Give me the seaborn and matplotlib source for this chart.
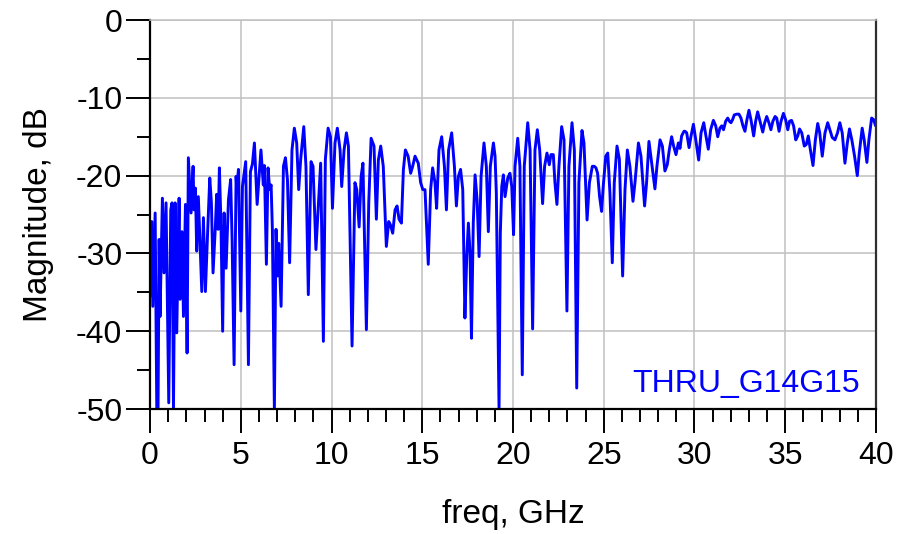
import numpy as np
import pandas as pd
import matplotlib
matplotlib.use("Agg")
import matplotlib.pyplot as plt
from matplotlib.ticker import MultipleLocator
import seaborn as sns

# trace, GHz / dB
freq_ghz = [
    0.0, 0.09, 0.15, 0.28, 0.37, 0.44, 0.5, 0.55, 0.68, 0.77, 0.88, 1.03, 1.14, 1.21, 1.29, 1.38,
    1.47, 1.6, 1.65, 1.76, 1.84, 1.95, 2.04, 2.11, 2.26, 2.37, 2.42, 2.5, 2.57, 2.66, 2.85, 2.94,
    3.05, 3.16, 3.29, 3.38, 3.47, 3.6, 3.67, 3.75, 3.82, 3.91, 4.0, 4.08, 4.19, 4.32, 4.44, 4.52,
    4.63, 4.74, 4.78, 4.87, 5.0, 5.09, 5.27, 5.42, 5.53, 5.64, 5.75, 5.9, 6.11, 6.24, 6.3, 6.41,
    6.5, 6.59, 6.67, 6.74, 6.85, 6.94, 7.02, 7.09, 7.22, 7.35, 7.46, 7.57, 7.69, 7.82, 7.95, 8.08,
    8.19, 8.3, 8.47, 8.59, 8.72, 8.87, 8.98, 9.14, 9.4, 9.55, 9.66, 9.81, 9.94, 10.05, 10.19, 10.32,
    10.47, 10.56, 10.69, 10.82, 10.93, 11.13, 11.29, 11.39, 11.52, 11.63, 11.73, 11.92, 12.05, 12.18,
    12.34, 12.47, 12.58, 12.71, 12.85, 13.02, 13.15, 13.24, 13.37, 13.5, 13.61, 13.72, 13.85, 13.96,
    14.07, 14.22, 14.36, 14.47, 14.6, 14.78, 14.91, 15.03, 15.15, 15.33, 15.46, 15.57, 15.7, 15.79,
    15.92, 16.07, 16.22, 16.33, 16.45, 16.62, 16.77, 16.88, 16.99, 17.11, 17.23, 17.35, 17.45, 17.54,
    17.63, 17.71, 17.81, 17.91, 18.02, 18.13, 18.24, 18.4, 18.53, 18.64, 18.75, 18.92, 19.01, 19.08,
    19.23, 19.3, 19.38, 19.47, 19.56, 19.71, 19.83, 19.93, 20.03, 20.11, 20.26, 20.38, 20.51, 20.62,
    20.81, 20.94, 21.08, 21.21, 21.34, 21.47, 21.63, 21.74, 21.87, 22.0, 22.09, 22.22, 22.31, 22.42,
    22.53, 22.68, 22.81, 22.97, 23.08, 23.25, 23.38, 23.51, 23.63, 23.8, 23.91, 24.08, 24.21, 24.37,
    24.48, 24.57, 24.66, 24.77, 24.88, 24.97, 25.11, 25.22, 25.34, 25.47, 25.58, 25.73, 25.86, 26.04,
    26.17, 26.3, 26.44, 26.61, 26.72, 26.91, 27.05, 27.25, 27.36, 27.49, 27.64, 27.82, 27.93, 28.1,
    28.23, 28.37, 28.5, 28.61, 28.74, 28.85, 28.98, 29.11, 29.2, 29.29, 29.42, 29.48, 29.57, 29.7,
    29.81, 29.94, 30.07, 30.23, 30.36, 30.51, 30.63, 30.76, 30.89, 31.04, 31.17, 31.28, 31.4, 31.5,
    31.6, 31.72, 31.83, 31.92, 32.01, 32.1, 32.19, 32.32, 32.45, 32.56, 32.67, 32.78, 32.89, 33.0,
    33.11, 33.26, 33.37, 33.48, 33.59, 33.76, 33.87, 33.98, 34.1, 34.21, 34.32, 34.44, 34.53, 34.66,
    34.77, 34.9, 35.02, 35.14, 35.24, 35.35, 35.46, 35.58, 35.69, 35.79, 35.91, 36.05, 36.16, 36.27,
    36.38, 36.53, 36.66, 36.79, 36.9, 37.04, 37.19, 37.34, 37.46, 37.59, 37.74, 37.88, 38.01, 38.14,
    38.29, 38.42, 38.54, 38.67, 38.82, 38.97, 39.08, 39.24, 39.35, 39.5, 39.61, 39.76, 39.87, 39.98,
]
mag_db = [
    -35.5, -25.9, -36.8, -24.8, -50.0, -50.0, -28.2, -38.1, -22.9, -32.5, -23.5, -49.2, -24.4, -23.5, -49.9, -23.5,
    -40.2, -22.9, -35.9, -27.2, -38.1, -23.7, -42.8, -17.7, -24.8, -18.8, -24.4, -21.6, -29.7, -22.7, -34.9, -25.4,
    -34.9, -28.0, -20.3, -23.5, -32.5, -26.5, -22.4, -26.9, -19.0, -26.5, -40.0, -24.8, -31.9, -23.1, -20.5, -28.2,
    -44.3, -20.1, -21.6, -19.2, -37.4, -21.4, -18.2, -44.3, -19.5, -18.5, -15.8, -23.7, -16.7, -21.2, -18.7, -31.4,
    -19.0, -21.8, -21.2, -26.9, -50.0, -26.9, -32.9, -28.7, -36.8, -18.8, -17.7, -20.5, -31.2, -16.7, -13.9, -15.8,
    -21.8, -17.9, -13.7, -18.8, -35.3, -18.2, -18.8, -29.5, -18.4, -41.3, -17.9, -13.9, -15.0, -24.2, -15.8, -13.9,
    -16.7, -21.4, -16.7, -14.5, -16.2, -41.9, -20.9, -21.8, -26.6, -20.1, -18.4, -39.8, -23.5, -15.2,
    -16.2, -25.6, -18.0, -16.2, -18.8, -29.1, -25.9, -26.3, -27.4, -24.4, -23.9, -25.6, -26.1, -19.2,
    -16.7, -17.5, -19.7, -18.8, -17.5, -18.4, -20.9, -21.8, -21.8, -31.4, -21.8, -19.0, -20.9, -24.2,
    -16.7, -15.0, -18.8, -24.4, -16.7, -14.5, -18.8, -23.9, -20.1, -19.2, -21.8, -38.3, -30.4, -26.1,
    -29.9, -40.9, -26.1, -19.9, -23.1, -30.4, -20.1, -15.8, -18.8, -27.2, -18.8, -15.8, -17.5, -22.2,
    -50.0, -27.4, -21.4, -19.9, -22.7, -20.3, -19.7, -21.4, -27.6, -18.8, -15.2, -18.8, -45.6, -18.8,
    -13.2, -16.7, -39.7, -16.7, -14.1, -16.7, -23.6, -18.8, -17.1, -18.6, -17.3, -17.3, -20.9, -23.7,
    -18.8, -13.7, -15.4, -37.4, -18.8, -13.2, -16.7, -47.3, -20.9, -14.2, -15.8, -25.7, -20.9, -18.8,
    -18.8, -19.0, -19.7, -22.7, -24.6, -21.4, -17.5, -17.1, -22.2, -31.2, -20.9, -16.2, -17.9, -32.9,
    -21.8, -16.7, -18.8, -23.3, -20.9, -15.8, -17.5, -23.9, -20.9, -15.6, -18.4, -21.7, -18.8, -15.4,
    -16.2, -19.4, -18.6, -16.7, -15.0, -16.2, -17.3, -15.8, -16.5, -14.9, -14.3, -14.3, -14.5, -16.4,
    -14.9, -13.4, -15.4, -18.0, -14.5, -13.2, -14.9, -16.6, -14.1, -12.9, -13.6, -15.0, -13.9, -13.6,
    -14.1, -13.0, -12.6, -13.0, -13.2, -12.8, -12.2, -12.1, -12.1, -12.6, -13.6, -14.3, -12.8, -11.6,
    -12.8, -14.9, -13.0, -11.8, -12.8, -14.4, -13.2, -12.4, -13.2, -14.1, -13.0, -12.4, -12.6, -14.3,
    -13.0, -12.0, -12.8, -14.1, -13.0, -12.9, -13.6, -15.4, -14.9, -14.0, -14.5, -16.2, -16.0, -14.9,
    -16.6, -18.7, -15.4, -13.3, -14.5, -17.5, -14.5, -13.2, -14.1, -15.1, -15.4, -14.5, -13.2, -14.5,
    -18.4, -15.8, -14.0, -15.4, -17.5, -20.0, -17.1, -13.9, -15.4, -18.3, -15.4, -12.6, -12.8, -13.6,
]
trace_name = "THRU_G14G15"

df = pd.DataFrame({"freq": freq_ghz, "mag": mag_db})

sns.set_style("white")
plt.rcParams["font.family"] = ["Liberation Sans", "DejaVu Sans"]
plt.rcParams["axes.unicode_minus"] = False
plt.rcParams["text.color"] = "black"
plt.rcParams["axes.labelcolor"] = "black"
plt.rcParams["xtick.color"] = "black"
plt.rcParams["ytick.color"] = "black"

fig = plt.figure(figsize=(9.04, 5.34), dpi=100)
ax = fig.add_axes([0.166, 0.234, 0.803, 0.7285])

sns.lineplot(data=df, x="freq", y="mag", color="#0000ff", linewidth=2.1, ax=ax, sort=False)

ax.set_xlim(0, 40)
ax.set_ylim(-50, 0)
ax.xaxis.set_major_locator(MultipleLocator(5))
ax.xaxis.set_minor_locator(MultipleLocator(1))
ax.yaxis.set_major_locator(MultipleLocator(10))
ax.yaxis.set_minor_locator(MultipleLocator(5))
ax.grid(True, which="major", color="#c0c0c0", linewidth=1.1)
ax.set_axisbelow(True)

ax.tick_params(axis="both", which="major", direction="out", length=17, width=1.4,
               labelsize=23, colors="black")
ax.tick_params(axis="x", which="major", pad=6)
ax.tick_params(axis="y", which="major", pad=3)
ax.tick_params(axis="both", which="minor", direction="out", length=9.5, width=1.4, color="black")
ax.tick_params(axis="y", which="both", left=True)
ax.tick_params(axis="x", which="both", bottom=True)

for side in ["left", "bottom"]:
    ax.spines[side].set_color("black")
    ax.spines[side].set_linewidth(1.6)
ax.spines["right"].set_color("#303030")
ax.spines["right"].set_linewidth(1.6)
ax.spines["top"].set_color("#c0c0c0")
ax.spines["top"].set_linewidth(1.1)

ax.set_xlabel("freq, GHz", fontsize=24, labelpad=20)
ax.set_ylabel("Magnitude, dB", fontsize=24, labelpad=16)

ax.text(0.978, 0.044, trace_name, transform=ax.transAxes, ha="right", va="baseline",
        color="#0000ff", fontsize=23)

fig.savefig("out.png", dpi=100)
